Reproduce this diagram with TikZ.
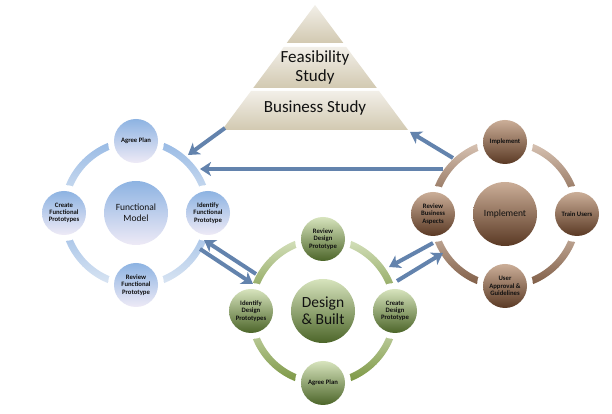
\documentclass[tikz,border=0pt]{standalone}
\usepackage{fontspec}
\setmainfont{Carlito}
\usetikzlibrary{arrows.meta}
\definecolor{arrowc}{HTML}{6383AD}
\definecolor{bTop}{HTML}{8DB3E2}
\definecolor{bBot}{HTML}{EEEAF6}
\definecolor{bRT}{HTML}{95B8E4}
\definecolor{bRB}{HTML}{DDE7F3}
\definecolor{gTop}{HTML}{D7E4BD}
\definecolor{gBot}{HTML}{4C6529}
\definecolor{gRT}{HTML}{D9E4C2}
\definecolor{gRB}{HTML}{76923C}
\definecolor{rTop}{HTML}{CBAE98}
\definecolor{rBot}{HTML}{5A3924}
\definecolor{rRT}{HTML}{DDC9BA}
\definecolor{rRB}{HTML}{7A573F}
\definecolor{pTop}{HTML}{F2EFE8}
\definecolor{pBot}{HTML}{D2C9B1}
\definecolor{txt}{HTML}{111111}
\newcommand\myring[3]{%
  \foreach \a in {0,90,180,270}{%
    \shade[top color=#2,bottom color=#3]
      ([shift={(\a:75.5)}]#1) arc[start angle=\a,end angle=\a+90,radius=75.5]
      -- ([shift={(\a+90:68.5)}]#1) arc[start angle=\a+90,end angle=\a,radius=68.5] -- cycle;}}
\tikzset{
  sat/.style={circle,minimum size=44pt,inner sep=0pt,align=center,text=txt,
    font=\fontsize{6.7}{7.2}\selectfont\bfseries,
    preaction={draw=white,line width=12pt}},
  hub/.style={circle,minimum size=64pt,inner sep=0pt,align=center,text=txt},
  bsat/.style={sat,top color=bTop,bottom color=bBot},
  gsat/.style={sat,top color=gTop,bottom color=gBot},
  rsat/.style={sat,top color=rTop,bottom color=rBot},
  layer/.style={top color=pTop,bottom color=pBot},
  flow/.style={draw=arrowc,line width=4pt,-{Stealth[length=11pt,width=14pt,inset=3pt]}},
}
\begin{document}
\begin{tikzpicture}[x=1pt,y=1pt]
\useasboundingbox (0,0) rectangle (612,414);
% pyramid
\shade[layer] (315,409) -- (343.3,371) -- (286.7,371) -- cycle;
\shade[layer] (283.8,367) -- (346.2,367) -- (376.8,326) -- (253.2,326) -- cycle;
\shade[layer] (251,323) -- (379,323) -- (408,284) -- (222,284) -- cycle;
\node[align=center,font=\fontsize{17}{19}\selectfont,text=txt] (feas) at (315,347) {Feasibility\\Study};
\node[font=\fontsize{17}{19}\selectfont,text=txt] (bus) at (315,306) {Business Study};
% centres
\coordinate (bc) at (136,201);
\coordinate (gc) at (323,103);
\coordinate (rc) at (505,200);
% rings
\myring{bc}{bRT}{bRB}
\myring{gc}{gRT}{gRB}
\myring{rc}{rRT}{rRB}
% blue cycle
\node[hub,top color=bTop,bottom color=bBot,font=\fontsize{9.5}{11}\selectfont] (bhub) at (bc) {Functional\\Model};
\node[bsat] (b1) at ([shift={(0,72)}]bc) {Agree Plan};
\node[bsat] (b2) at ([shift={(72,0)}]bc) {Identify\\Functional\\Prototype};
\node[bsat] (b3) at ([shift={(0,-72)}]bc) {Review\\Functional\\Prototype};
\node[bsat] (b4) at ([shift={(-72,0)}]bc) {Create\\Functional\\Prototypes};
% green cycle
\node[hub,top color=gTop,bottom color=gBot,font=\fontsize{15.5}{17}\selectfont] (ghub) at (gc) {Design\\\& Built};
\node[gsat] (g1) at ([shift={(0,72)}]gc) {Review\\Design\\Prototype};
\node[gsat] (g2) at ([shift={(72,0)}]gc) {Create\\Design\\Prototype};
\node[gsat] (g3) at ([shift={(0,-72)}]gc) {Agree Plan};
\node[gsat] (g4) at ([shift={(-72,0)}]gc) {Identify\\Design\\Prototypes};
% brown cycle
\node[hub,top color=rTop,bottom color=rBot,font=\fontsize{9.5}{11}\selectfont] (rhub) at (rc) {Implement};
\node[rsat] (r1) at ([shift={(0,72)}]rc) {Implement};
\node[rsat] (r2) at ([shift={(72,0)}]rc) {Train Users};
\node[rsat] (r3) at ([shift={(0,-72)}]rc) {User\\Approval \&\\Guidelines};
\node[rsat] (r4) at ([shift={(-72,0)}]rc) {Review\\Business\\Aspects};
% arrow ends
\coordinate (a1s) at (225,286); \coordinate (a1e) at (188,259);
\coordinate (a2s) at (443,245); \coordinate (a2e) at (200,245);
\coordinate (a3s) at (453,256); \coordinate (a3e) at (410,282);
\coordinate (a4s) at (256,140); \coordinate (a4e) at (204,174);
\coordinate (a5s) at (200,165); \coordinate (a5e) at (253,130);
\coordinate (a6s) at (433,171); \coordinate (a6e) at (389,147);
\coordinate (a7s) at (397,133); \coordinate (a7e) at (443,161);
\foreach \i in {1,...,7}{\draw[flow] (a\i s) -- (a\i e);}
\end{tikzpicture}
\end{document}
